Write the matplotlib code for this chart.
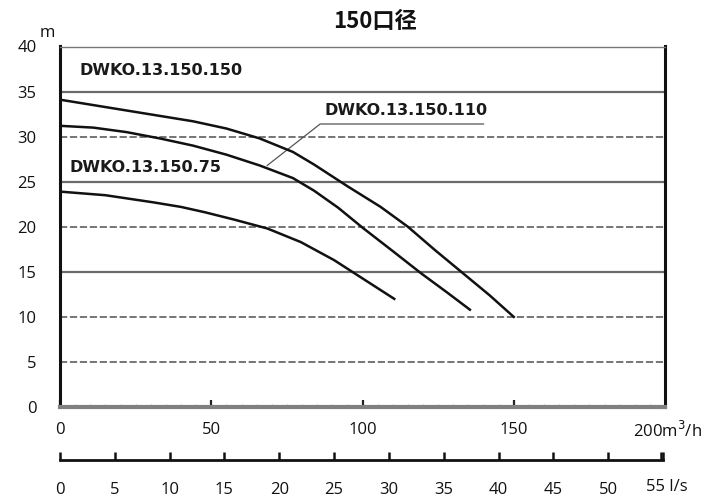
import numpy as np
import matplotlib
matplotlib.use("Agg")
import matplotlib.pyplot as plt
from matplotlib.ticker import MultipleLocator

plt.rcParams['font.family'] = ['Noto Sans CJK SC', 'DejaVu Sans']

# pump curves, flow in m3/h, head in m
q_150 = [0, 11, 22, 33, 44, 55, 66, 77, 84, 95, 106, 115, 124, 133, 142, 150]
h_150 = [34.1, 33.5, 32.9, 32.3, 31.7, 30.9, 29.8, 28.3, 26.9, 24.5, 22.2, 20.0, 17.4, 14.9, 12.4, 10.0]

q_110 = [0, 11, 22, 33, 44, 55, 66, 77, 84, 92, 100, 110, 119.5, 128, 135.5]
h_110 = [31.2, 31.0, 30.5, 29.8, 29.0, 28.0, 26.8, 25.4, 24.0, 22.1, 19.9, 17.3, 14.8, 12.7, 10.8]

q_75 = [0, 15, 31, 40, 48, 57.5, 68.6, 79.6, 90.6, 101.7, 110.5]
h_75 = [23.9, 23.5, 22.7, 22.2, 21.6, 20.8, 19.8, 18.3, 16.3, 13.9, 12.0]

solid_levels = [35, 25, 15]
dashed_levels = [30, 20, 10, 5]
q_ticks = [0, 50, 100, 150]
ls_ticks = [0, 5, 10, 15, 20, 25, 30, 35, 40, 45, 50, 55]

tick_font = dict(family=['Open Sans', 'DejaVu Sans'], fontsize=12, color='#111111')

fig = plt.figure(figsize=(7.22, 4.99), dpi=100)
ax = fig.add_axes([60 / 722, 1 - 407 / 499, 605 / 722, 360.5 / 499])
ax.set_xlim(0, 200)
ax.set_ylim(0, 40)

for lv in solid_levels:
    ax.axhline(lv, color='#6a6a6a', lw=1.6, zorder=1)
for lv in dashed_levels:
    ax.axhline(lv, color='#6a6a6a', lw=1.3, ls=(0, (4, 1.5)), zorder=1)

for q, h in [(q_150, h_150), (q_110, h_110), (q_75, h_75)]:
    ax.plot(q, h, color='#111111', lw=1.8, zorder=3, solid_joinstyle='round')

lab = dict(family=['DejaVu Sans'], fontweight='bold', fontsize=11.5, color='#1a1a1a', va='center')
ax.text(6.6, 37.3, 'DWKO.13.150.150', **lab)
ax.text(87.5, 32.9, 'DWKO.13.150.110', **lab)
ax.text(3.3, 26.6, 'DWKO.13.150.75', **lab)
# leader line for the 110 label
ax.plot([140, 86, 68.5], [31.4, 31.4, 26.8], color='#555555', lw=0.9, zorder=2)

for s in ['left', 'right']:
    ax.spines[s].set_linewidth(2.2)
    ax.spines[s].set_color('#111111')
ax.spines['top'].set_linewidth(1.0)
ax.spines['top'].set_color('#777777')
ax.spines['bottom'].set_linewidth(3.0)
ax.spines['bottom'].set_color('#808080')

ax.set_yticks(range(0, 41, 5))
ax.set_yticklabels([str(v) for v in range(0, 41, 5)], **tick_font)
ax.tick_params(axis='y', length=0, pad=17)
ax.set_xticks(q_ticks)
ax.set_xticklabels([str(v) for v in q_ticks], **tick_font)
ax.xaxis.set_minor_locator(MultipleLocator(5))
ax.tick_params(axis='x', which='major', direction='in', length=5, width=1.6, color='#222222', pad=11)
ax.tick_params(axis='x', which='minor', direction='in', length=2, width=0.8, color='#bbbbbb')
fig.text(633 / 722, 1 - 431 / 499, '200m$^3$/h', ha='left', va='center', **tick_font)
fig.text(40 / 722, 1 - 33 / 499, 'm', ha='left', va='center', **tick_font)

fig.text(375 / 722, 1 - 22 / 499, '150口径', ha='center', va='center',
         fontsize=16, fontweight='bold', color='#111111')

# second flow scale in l/s
ax2 = fig.add_axes([60 / 722, 1 - 460 / 499, 603 / 722, 0.001])
ax2.set_xlim(0, 55)
ax2.set_yticks([])
for s in ['left', 'right', 'top']:
    ax2.spines[s].set_visible(False)
ax2.spines['bottom'].set_linewidth(2.0)
ax2.spines['bottom'].set_color('#111111')
ax2.patch.set_alpha(0)
ax2.set_xticks(ls_ticks)
ax2.set_xticklabels([str(v) for v in ls_ticks[:-1]] + [''], **tick_font)
ax2.tick_params(axis='x', direction='in', length=6, width=1.8, color='#111111', pad=16)
ax2.set_xticks([54.8], minor=True)
ax2.tick_params(axis='x', which='minor', direction='in', length=6, width=1.8, color='#111111')
fig.text(646 / 722, 1 - 487 / 499, '55 l/s', ha='left', va='center', **tick_font)

fig.savefig('out.png', dpi=100)
